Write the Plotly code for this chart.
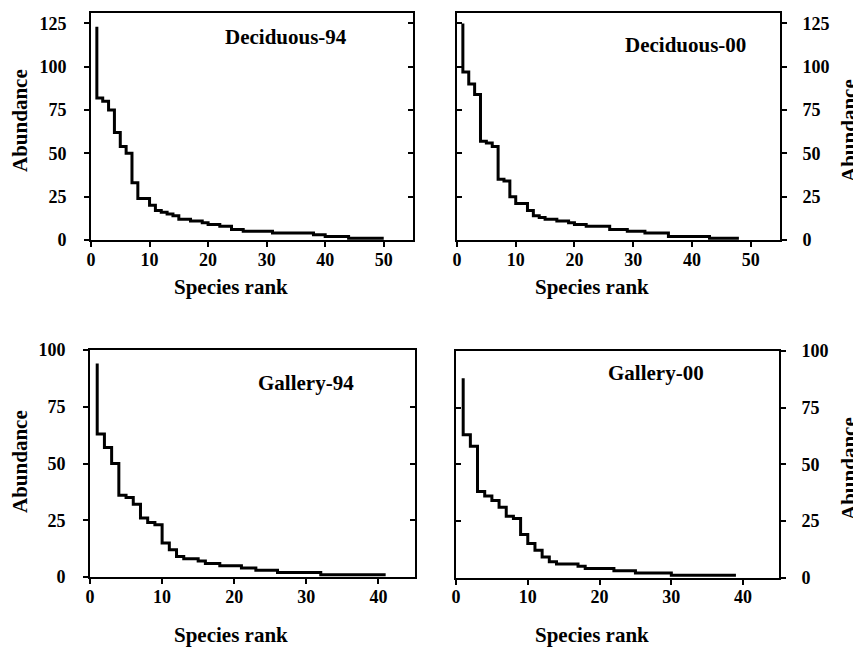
import plotly.graph_objects as go

# ---- data (abundance by species rank) ----
deciduous_94 = [123, 82, 80, 75, 62, 54, 50, 33, 24, 24,
                20, 17, 16, 15, 14, 12, 12, 11, 11, 10,
                9, 9, 8, 8, 6, 6, 5, 5, 5, 5,
                5, 4, 4, 4, 4, 4, 4, 4, 3, 3,
                2, 2, 2, 2, 1, 1, 1, 1, 1, 1]
deciduous_00 = [125, 97, 90, 84, 57, 56, 54, 35, 34, 25,
                21, 21, 17, 14, 13, 12, 12, 11, 11, 10,
                9, 9, 8, 8, 8, 8, 6, 6, 6, 5,
                5, 5, 4, 4, 4, 4, 2, 2, 2, 2,
                2, 2, 2, 1, 1, 1, 1, 1]
gallery_94 = [94, 63, 57, 50, 36, 35, 32, 26, 24, 23,
              15, 12, 9, 8, 8, 7, 6, 6, 5, 5,
              5, 4, 4, 3, 3, 3, 2, 2, 2, 2,
              2, 2, 1, 1, 1, 1, 1, 1, 1, 1, 1]
gallery_00 = [88, 63, 58, 38, 36, 34, 31, 27, 26, 19,
              15, 12, 9, 7, 6, 6, 6, 5, 4, 4,
              4, 4, 3, 3, 3, 2, 2, 2, 2, 2,
              1, 1, 1, 1, 1, 1, 1, 1, 1]

panel_names = ["Deciduous-94", "Deciduous-00", "Gallery-94", "Gallery-00"]
x_ticks_top = [0, 10, 20, 30, 40, 50]
x_ticks_bottom = [0, 10, 20, 30, 40]
y_ticks_top = [0, 25, 50, 75, 100, 125]
y_ticks_bottom = [0, 25, 50, 75, 100]
x_title = "Species rank"
y_title = "Abundance"

# ---- layout geometry (window pixels) ----
WIN_W, WIN_H = 861, 651
OFF = 8                      # page body margin
W, H = WIN_W - OFF, WIN_H - OFF
FONT = "Liberation Serif"


def fx(px):
    return (px - OFF) / W


def fy(py):
    return 1 - (py - OFF) / H


panels = [
    dict(values=deciduous_94, px=(91, 413), py=(13, 240), xr=[0, 55], yr=[0, 131],
         xt=x_ticks_top, yt=y_ticks_top, side="left",
         label=(285.5, 37), ytitle=(20, 121), xtitle=(231, 287)),
    dict(values=deciduous_00, px=(457, 780), py=(13, 240), xr=[0, 55], yr=[0, 131],
         xt=x_ticks_top, yt=y_ticks_top, side="right",
         label=(685, 45.5), ytitle=(849, 131), xtitle=(592, 287)),
    dict(values=gallery_94, px=(90, 414.5), py=(350, 577), xr=[0, 45], yr=[0, 100],
         xt=x_ticks_bottom, yt=y_ticks_bottom, side="left",
         label=(305.5, 383), ytitle=(20, 462), xtitle=(231, 635)),
    dict(values=gallery_00, px=(456, 779), py=(351, 577.5), xr=[0, 45], yr=[0, 100],
         xt=x_ticks_bottom, yt=y_ticks_bottom, side="right",
         label=(656, 373), ytitle=(849, 469), xtitle=(592, 635)),
]

fig = go.Figure()
layout = dict(
    template="none",
    width=W, height=H,
    margin=dict(l=0, r=0, t=0, b=0, pad=0, autoexpand=False),
    paper_bgcolor="white", plot_bgcolor="white",
    showlegend=False,
    font=dict(family=FONT, size=18, color="black", weight="bold"),
)
annotations = []

for i, p in enumerate(panels):
    n = i + 1
    xa = "x" if n == 1 else f"x{n}"
    ya = "y" if n == 1 else f"y{n}"
    ya_m = f"y{n + 4}"
    ranks = list(range(1, len(p["values"]) + 1))
    fig.add_trace(go.Scatter(
        x=ranks, y=p["values"], mode="lines", line=dict(shape="vh", color="black", width=3),
        xaxis=xa, yaxis=ya, hoverinfo="skip"))
    fig.add_trace(go.Scatter(x=[], y=[], xaxis=xa, yaxis=ya_m, hoverinfo="skip"))

    xdom = [fx(p["px"][0]), fx(p["px"][1])]
    ydom = [fy(p["py"][1]), fy(p["py"][0])]
    layout["xaxis" if n == 1 else f"xaxis{n}"] = dict(
        domain=xdom, anchor=ya, range=p["xr"], tickvals=p["xt"], automargin=False,
        ticks="outside", ticklen=5, tickwidth=1.5, tickcolor="black",
        showline=True, linewidth=2, linecolor="black", mirror=True,
        showgrid=False, zeroline=False, ticklabelstandoff=-3,
        tickfont=dict(family=FONT, size=18, weight="bold", color="black"))
    layout["yaxis" if n == 1 else f"yaxis{n}"] = dict(
        domain=ydom, anchor=xa, range=p["yr"], tickvals=p["yt"], side=p["side"],
        automargin=False,
        ticks="outside", ticklen=5, tickwidth=1.5, tickcolor="black",
        showline=True, linewidth=2, linecolor="black", mirror=True,
        showgrid=False, zeroline=False,
        ticklabelstandoff=14 if p["side"] == "left" else 12,
        tickfont=dict(family=FONT, size=18, weight="bold", color="black"))
    layout[f"yaxis{n + 4}"] = dict(
        overlaying=ya, anchor=xa, range=p["yr"], tickvals=p["yt"], automargin=False,
        side="right" if p["side"] == "left" else "left",
        ticks="inside", ticklen=5, tickwidth=1.5, tickcolor="black",
        showticklabels=False, showline=False, showgrid=False, zeroline=False)

    annotations.append(dict(
        text=panel_names[i], x=fx(p["label"][0]), y=fy(p["label"][1]),
        xref="paper", yref="paper", xanchor="center", yanchor="middle", showarrow=False,
        font=dict(family=FONT, size=21, weight="bold", color="black")))
    annotations.append(dict(
        text=y_title, x=fx(p["ytitle"][0]), y=fy(p["ytitle"][1]), textangle=-90,
        xref="paper", yref="paper", xanchor="center", yanchor="middle", showarrow=False,
        font=dict(family=FONT, size=21, weight="bold", color="black")))
    annotations.append(dict(
        text=x_title, x=fx(p["xtitle"][0]), y=fy(p["xtitle"][1]),
        xref="paper", yref="paper", xanchor="center", yanchor="middle", showarrow=False,
        font=dict(family=FONT, size=21, weight="bold", color="black")))

layout["annotations"] = annotations
fig.update_layout(**layout)
fig.write_html("out.html")
